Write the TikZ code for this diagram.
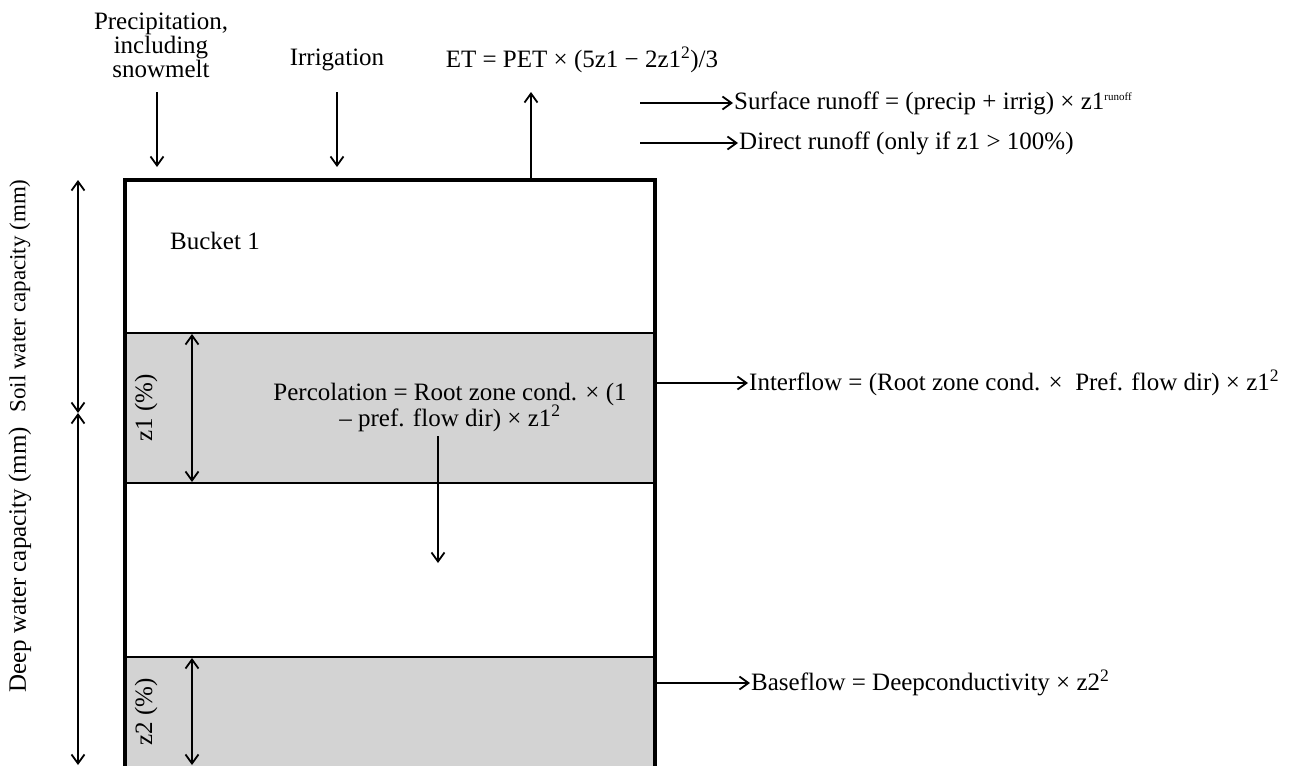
\documentclass[tikz,border=0pt]{standalone}
\usepackage{fontspec}
\setmainfont{Liberation Serif}
\usetikzlibrary{arrows.meta}
\definecolor{band}{RGB}{211,211,211}
\tikzset{
  lbl/.style={inner sep=1pt, font=\fontsize{25}{24}\selectfont},
  flow/.style={-{Straight Barb[length=9pt,width=13pt,line width=1.8pt]}, line width=2pt},
  dim/.style={{Straight Barb[length=9pt,width=13pt,line width=1.8pt]}-{Straight Barb[length=9pt,width=13pt,line width=1.8pt]}, line width=2pt},
  divider/.style={line width=2pt},
}
\begin{document}
\begin{tikzpicture}[x=1pt,y=-1pt]
\useasboundingbox (0,0) rectangle (1299,766);
% box corners
\coordinate (TL) at (125,180);
\coordinate (TR) at (655,180);
\coordinate (BL) at (125,768);
\coordinate (BR) at (655,768);
% bands
\fill[band] (125,333) rectangle (655,483);
\fill[band] (125,657) rectangle (655,768);
\draw[divider] (125,333) -- (655,333);
\draw[divider] (125,483) -- (655,483);
\draw[divider] (125,657) -- (655,657);
\draw[line width=3.2pt] (BL) -- (TL) -- (TR) -- (BR);

% top inputs
\node[lbl, align=center] (precip) at (161,45) {Precipitation,\\including\\snowmelt};
\coordinate (precipEnd) at (157,167);
\draw[flow] (157,92) -- (precipEnd);
\node[lbl] (irrig) at (337,60) {Irrigation};
\coordinate (irrigEnd) at (337,167);
\draw[flow] (337,92) -- (irrigEnd);
\node[lbl] (et) at (582,60) {ET = PET × (5z1 − 2z1\textsuperscript{2})/3};
\coordinate (etStart) at (531,180);
\draw[flow] (etStart) -- (531,92);

% runoff
\coordinate (sr0) at (640,103);
\node[lbl, anchor=west] (sr) at (733,103) {Surface runoff = (precip + irrig) × z1\textsuperscript{\fontsize{11}{12}\selectfont runoff}};
\draw[flow] (sr0) -- (sr.west);
\coordinate (dr0) at (640,143);
\node[lbl, anchor=west] (dr) at (738,143) {Direct runoff (only if z1 > 100\%)};
\draw[flow] (dr0) -- (dr.west);

% bucket
\node[lbl] (bucket) at (215,241) {Bucket 1};
\node[lbl, align=center, font=\fontsize{25}{26}\selectfont] (perc) at (450,407) {Percolation = Root zone cond. × (1\\– pref. flow dir) × z1\textsuperscript{2}};
\coordinate (percEnd) at (438,563);
\draw[flow] (438,436) -- (percEnd);

% side outputs
\coordinate (if0) at (655,383);
\node[lbl, anchor=west] (inter) at (748,383) {Interflow = (Root zone cond. ×\ \ Pref. flow dir) × z1\textsuperscript{2}};
\draw[flow] (if0) -- (inter.west);
\coordinate (bf0) at (655,683);
\node[lbl, anchor=west] (base) at (750,683) {Baseflow = Deepconductivity × z2\textsuperscript{2}};
\draw[flow] (bf0) -- (base.west);

% dimension arrows
\coordinate (s1) at (78,180);
\coordinate (s2) at (78,413);
\coordinate (s3) at (78,765);
\draw[dim] (s1) -- (s2);
\draw[dim] (s2) -- (s3);
\node[lbl, rotate=90, font=\fontsize{23}{24}\selectfont] (soil) at (20,296) {Soil water capacity (mm)};
\node[lbl, rotate=90] (deep) at (20,560) {Deep water capacity (mm)};

\coordinate (z1a) at (192,334);
\coordinate (z1b) at (192,482);
\draw[dim] (z1a) -- (z1b);
\node[lbl, rotate=90] (z1) at (146,408) {z1 (\%)};
\coordinate (z2a) at (192,658);
\coordinate (z2b) at (192,765);
\draw[dim] (z2a) -- (z2b);
\node[lbl, rotate=90] (z2) at (146,712) {z2 (\%)};
\end{tikzpicture}
\end{document}
